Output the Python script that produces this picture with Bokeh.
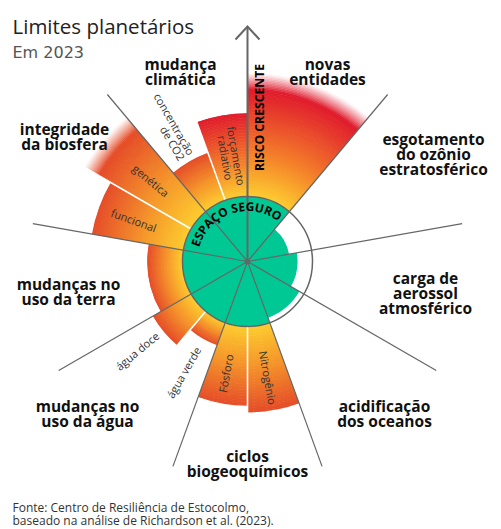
import math
from bokeh.plotting import figure
from bokeh.models import Range1d, ColumnDataSource
from bokeh.embed import file_html
from bokeh.resources import INLINE
from bokeh.core.properties import value

# ---------------- data ----------------
title = "Limites planetários"
subtitle = "Em 2023"
source_lines = ["Fonte: Centro de Resiliência de Estocolmo,",
                "baseado na análise de Richardson et al. (2023)."]

# nine boundaries, counter-clockwise starting at the 10° divider
boundary_labels = [
    ["esgotamento", "do ozônio", "estratosférico"],
    ["novas", "entidades"],
    ["mudança", "climática"],
    ["integridade", "da biosfera"],
    ["mudanças no", "uso da terra"],
    ["mudanças no", "uso da água"],
    ["ciclos", "biogeoquímicos"],
    ["acidificação", "dos oceanos"],
    ["carga de", "aerossol", "atmosférico"],
]
# control variables (counter-clockwise inside each boundary)
var_boundary = [0, 1, 2, 2, 3, 3, 4, 5, 5, 6, 6, 7, 8]
var_labels = ["", "", "forçamento\nradiativo", "concentração\nde CO2", "genética",
              "funcional", "", "água doce", "água verde", "Fósforo", "Nitrogênio", "", ""]
# status relative to the safe limit (1.0 = limite do espaço seguro)
var_status = [0.65, 2.90, 2.28, 1.78, 2.90, 2.43, 1.54, 1.68, 1.37, 2.22, 2.32, 0.92, 0.77]
var_unquantified = [False, True, False, False, True, False, False, False, False,
                    False, False, False, False]

safe_label = "ESPAÇO SEGURO"
risk_label = "RISCO CRESCENTE"

# ---------------- layout / style ----------------
W, H = 501, 529
def Y(yimg):
    return H - yimg

CX, CY = 247.0, Y(261)
R0 = 65.0           # safe-limit radius in px
FIRST = 10.0        # first divider angle (deg)
SECTOR = 40.0
FONT = value("Open Sans")
GREEN = "#00C895"
GREY = "#666666"

YELLOW = (253, 204, 46)
STOPS_NORMAL = [(0.0, YELLOW), (0.45, (245, 150, 42)), (1.0, (229, 76, 40))]
STOPS_RED = [(0.0, YELLOW), (0.40, (244, 128, 42)), (1.0, (224, 27, 44))]
red_vars = {1, 2}

def interp(stops, t):
    t = max(0.0, min(1.0, t))
    for (t0, c0), (t1, c1) in zip(stops[:-1], stops[1:]):
        if t <= t1:
            f = (t - t0) / (t1 - t0)
            return tuple(c0[k] + (c1[k] - c0[k]) * f for k in range(3))
    return stops[-1][1]

def hexc(c):
    return "#%02x%02x%02x" % tuple(int(round(v)) for v in c)

def rad(d):
    return math.radians(d)

# angles of each control variable
n_sub = [var_boundary.count(b) for b in range(len(boundary_labels))]
var_a0, var_a1 = [], []
seen = {}
for b in var_boundary:
    j = seen.get(b, 0)
    seen[b] = j + 1
    a0 = FIRST + SECTOR * b + SECTOR * j / n_sub[b]
    var_a0.append(a0)
    var_a1.append(a0 + SECTOR / n_sub[b])

p = figure(width=W, height=H, x_range=Range1d(0, W), y_range=Range1d(0, H),
           output_backend="svg", toolbar_location=None, min_border=0,
           x_axis_type=None, y_axis_type=None)
p.grid.visible = False
p.outline_line_color = None
p.background_fill_color = "white"

# ---------------- gradient wedges ----------------
band = dict(x=[], y=[], ri=[], ro=[], sa=[], ea=[], c=[])
STEP = 1.5
SOLID_END = 172.0
for i, s in enumerate(var_status):
    if s <= 1:
        continue
    r_out = s * R0
    stops = STOPS_RED if i in red_vars else STOPS_NORMAL
    solid_end = SOLID_END if var_unquantified[i] else r_out
    r = R0
    while r < r_out - 0.01:
        r2 = min(r + STEP, r_out)
        rm = (r + r2) / 2
        if rm <= solid_end:
            col = interp(stops, (rm - R0) / (solid_end - R0))
        else:
            endc = interp(stops, 1.0)
            f = (rm - solid_end) / (r_out - solid_end)
            f = f ** 0.9
            col = tuple(endc[k] + (255 - endc[k]) * f for k in range(3))
        band["x"].append(CX); band["y"].append(CY)
        band["ri"].append(r); band["ro"].append(min(r2 + 0.6, r_out))
        band["sa"].append(rad(var_a0[i])); band["ea"].append(rad(var_a1[i]))
        band["c"].append(hexc(col))
        r = r2
p.annular_wedge(x="x", y="y", inner_radius="ri", outer_radius="ro", start_angle="sa",
                end_angle="ea", fill_color="c", line_color=None, source=ColumnDataSource(band))

# ---------------- safe zone ----------------
p.circle(x=[CX], y=[CY], radius=R0, fill_color=GREEN, line_color=None)
gap = dict(x=[], y=[], ri=[], sa=[], ea=[])
for i, s in enumerate(var_status):
    if s < 1:
        gap["x"].append(CX); gap["y"].append(CY)
        gap["ri"].append(s * R0)
        gap["sa"].append(rad(var_a0[i])); gap["ea"].append(rad(var_a1[i]))
p.annular_wedge(x="x", y="y", inner_radius="ri", outer_radius=R0 + 0.5, start_angle="sa",
                end_angle="ea", fill_color="white", line_color=None, source=ColumnDataSource(gap))

# white separators between control variables of the same boundary
sx0, sy0, sx1, sy1 = [], [], [], []
for i in range(len(var_status) - 1):
    if var_boundary[i] == var_boundary[i + 1]:
        a = rad(var_a1[i])
        rmax = max(var_status[i], var_status[i + 1]) * R0 + 1
        sx0.append(CX + R0 * math.cos(a)); sy0.append(CY + R0 * math.sin(a))
        sx1.append(CX + rmax * math.cos(a)); sy1.append(CY + rmax * math.sin(a))
p.segment(x0=sx0, y0=sy0, x1=sx1, y1=sy1, line_color="white", line_width=1.6)

# safe-limit outline
p.circle(x=[CX], y=[CY], radius=R0, fill_color=None, line_color=GREY, line_width=1.5)

# grey dividers
DIV_R = 218
dx0, dy0, dx1, dy1 = [], [], [], []
for b in range(len(boundary_labels)):
    a = FIRST + SECTOR * b
    if abs(a - 90) < 1e-6:
        continue
    dx0.append(CX); dy0.append(CY)
    dx1.append(CX + DIV_R * math.cos(rad(a))); dy1.append(CY + DIV_R * math.sin(rad(a)))
p.segment(x0=dx0, y0=dy0, x1=dx1, y1=dy1, line_color=GREY, line_width=1.2)

# arrow (increasing risk)
tip = Y(26)
p.segment(x0=[CX], y0=[CY], x1=[CX], y1=[tip], line_color=GREY, line_width=2)
p.line(x=[CX - 12, CX, CX + 12], y=[tip - 13, tip, tip - 13], line_color=GREY,
       line_width=2, line_join="miter")
p.scatter(x=[CX], y=[CY], size=5, color=GREY)

# ---------------- texts ----------------
p.text(x=[12], y=[Y(25)], text=[title], text_font=FONT, text_font_size="20.5px",
       text_color="#222222", text_baseline="alphabetic")
p.text(x=[12], y=[Y(52)], text=[subtitle], text_font=value("DejaVu Sans"),
       text_font_size="16px", text_color="#555555", text_baseline="alphabetic")
p.text(x=[12, 12], y=[Y(507), Y(519.5)], text=source_lines, text_font=FONT,
       text_font_size="12px", text_color="#333333", text_baseline="alphabetic")

# boundary labels (first-line centre, image coords)
cat_pos = [(433, 138), (327, 63), (180, 63), (64, 128), (68, 283), (87, 405),
           (247, 455), (384, 405), (425, 277)]
lx, ly, lt = [], [], []
for (px, py), lines in zip(cat_pos, boundary_labels):
    for k, ln in enumerate(lines):
        lx.append(px); ly.append(Y(py + 15.2 * k)); lt.append(ln)
p.text(x=lx, y=ly, text=lt, text_font=FONT, text_font_size="15.5px", text_font_style="bold",
       text_color="#111111", text_align="center", text_baseline="middle")

# control-variable labels: theta, r, text angle, align
sub_layout = {
    2: (99, 106, -80, "center"),
    3: (120, 121, -60, "right"),
    4: (140, 126, -40, "center"),
    5: (160, 121, -20, "center"),
    7: (219, 142, 40, "center"),
    8: (240, 128, 60, "center"),
    9: (259, 114, 80, "center"),
    10: (280, 118, -80, "center"),
}
for i, (th, r, ang, al) in sub_layout.items():
    lines = var_labels[i].split("\n")
    n = len(lines)
    ux, uy = math.cos(rad(ang + 90)), math.sin(rad(ang + 90))
    bx, by = CX + r * math.cos(rad(th)), CY + r * math.sin(rad(th))
    xs, ys = [], []
    for k in range(n):
        off = ((n - 1) / 2 - k) * 11
        xs.append(bx + off * ux); ys.append(by + off * uy)
    p.text(x=xs, y=ys, text=lines, angle=rad(ang), text_font=FONT, text_font_size="11px",
           text_color="#333333", text_align=al, text_baseline="middle")

# risk label
p.text(x=[258.5], y=[Y(117)], text=[risk_label], angle=rad(90), text_font=FONT,
       text_font_size="12.2px", text_font_style="bold", text_color="#000000",
       text_align="center", text_baseline="middle")

# safe-zone arc label
widths = {"E": .57, "S": .58, "P": .64, "A": .72, "Ç": .66, "O": .81, " ": .3,
          "G": .76, "U": .78, "R": .68}
ws = [widths.get(ch, .6) for ch in safe_label]
cum = []
acc = 0
for w in ws:
    cum.append(acc + w / 2)
    acc += w
span = cum[-1] - cum[0]
A_START, A_END, R_TXT = 160.0, 58.0, 55.0
ax, ay, at, aa = [], [], [], []
for ch, c in zip(safe_label, cum):
    th = A_START - (A_START - A_END) * (c - cum[0]) / span
    ax.append(CX + R_TXT * math.cos(rad(th))); ay.append(CY + R_TXT * math.sin(rad(th)))
    at.append(ch); aa.append(rad(th - 90))
p.text(x=ax, y=ay, text=at, angle=aa, text_font=FONT, text_font_size="12px",
       text_font_style="bold", text_color="#000000", text_align="center",
       text_baseline="middle")

open("out.html", "w").write(file_html(p, INLINE))
